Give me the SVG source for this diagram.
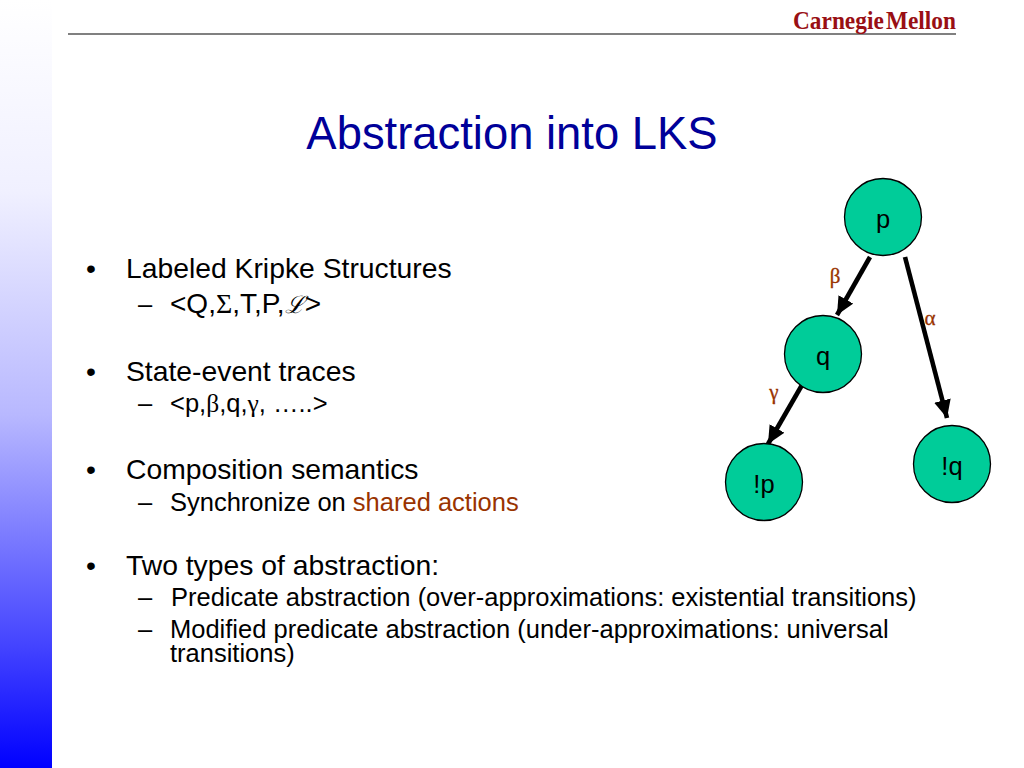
<svg xmlns="http://www.w3.org/2000/svg" width="1024" height="768" viewBox="0 0 1024 768">
<style>
text{font-family:"Liberation Sans",Arial,sans-serif;fill:#000}
.s{font-family:"Liberation Serif","Times New Roman",serif}
.l1{font-size:28.3px}
.l2{font-size:28px}
.l3{font-size:25.5px}
.n{font-size:25.5px;text-anchor:middle}
.st{fill:#00cc99;stroke:#000;stroke-width:1.3}
.e{stroke:#000;stroke-width:4.6;fill:none;marker-end:url(#a)}
.g{font-family:"Liberation Serif","Times New Roman",serif;fill:#993300;font-size:21px;text-anchor:middle;stroke:#993300;stroke-width:.3}
</style>
<defs>
<linearGradient id="b" x1="0" y1="0" x2="0" y2="1"><stop offset="0" stop-color="#fff"/><stop offset="0.25" stop-color="#f0f0ff"/><stop offset="0.54" stop-color="#b8b8ff"/><stop offset="0.665" stop-color="#8888ff"/><stop offset="0.85" stop-color="#4040ff"/><stop offset="1" stop-color="#0000ff"/></linearGradient>
<marker id="a" markerUnits="userSpaceOnUse" markerWidth="22" markerHeight="20" refX="18" refY="8.5" orient="auto"><path d="M0 0L18 8.5L0 17Z" fill="#000"/></marker>
</defs>
<rect width="1024" height="768" fill="#fff"/>
<rect id="sidebar" x="0" y="0" width="52" height="768" fill="url(#b)"/>
<rect id="rule" x="68" y="33" width="888" height="2" fill="#808080"/>
<text id="logo" x="793" y="29" style="font-family:'Liberation Serif',serif;font-weight:bold;fill:#990f14;font-size:26px;word-spacing:-4px" textLength="163" lengthAdjust="spacingAndGlyphs">Carnegie Mellon</text>
<text id="title" x="512" y="149" style="font-size:45.4px;fill:#000099;text-anchor:middle">Abstraction into LKS</text>
<g id="bullets">
<text class="l1" x="86" y="278">•</text><text class="l1" x="126" y="278">Labeled Kripke Structures</text>
<text class="l3" x="138" y="313">–</text><text class="l2" x="170" y="313">&lt;Q,<tspan class="s">Σ</tspan>,T,P,<tspan class="s" font-style="italic" font-size="24">ℒ</tspan>&gt;</text>
<text class="l1" x="86" y="381">•</text><text class="l1" x="126" y="381">State-event traces</text>
<text class="l3" x="138" y="412">–</text><text class="l3" x="170" y="412" font-size="25.8">&lt;p,<tspan class="s">β</tspan>,q,<tspan class="s">γ</tspan>, …..&gt;</text>
<text class="l1" x="86" y="479">•</text><text class="l1" x="126" y="479">Composition semantics</text>
<text class="l3" x="138" y="511">–</text><text class="l3" x="170" y="511">Synchronize on <tspan style="fill:#993300">shared actions</tspan></text>
<text class="l1" x="86" y="575">•</text><text class="l1" x="126" y="575">Two types of abstraction:</text>
<text class="l3" x="138" y="606">–</text><text class="l3" x="171" y="606">Predicate abstraction (over-approximations: existential transitions)</text>
<text class="l3" x="138" y="638">–</text><text class="l3" x="170" y="638">Modified predicate abstraction (under-approximations: universal<tspan x="170" dy="24">transitions)</tspan></text>
</g>
<g id="connectors">
<line class="e" x1="870" y1="257" x2="837" y2="315"/>
<line class="e" x1="905" y1="257" x2="947" y2="418"/>
<line class="e" x1="802" y1="385" x2="768" y2="444"/>
</g>
<g id="node-p"><circle class="st" cx="883" cy="217" r="38.5"/><text class="n" x="883" y="228">p</text></g>
<g id="node-q"><circle class="st" cx="823" cy="354" r="38.5"/><text class="n" x="823" y="365">q</text></g>
<g id="node-np"><circle class="st" cx="764" cy="482" r="38.5"/><text class="n" x="764" y="493">!p</text></g>
<g id="node-nq"><circle class="st" cx="952" cy="464" r="38.5"/><text class="n" x="952" y="475">!q</text></g>
<g id="edge-labels">
<text class="g" x="835" y="283">β</text>
<text class="g" x="930" y="325">α</text>
<text class="g" x="774" y="399">γ</text>
</g>
</svg>
